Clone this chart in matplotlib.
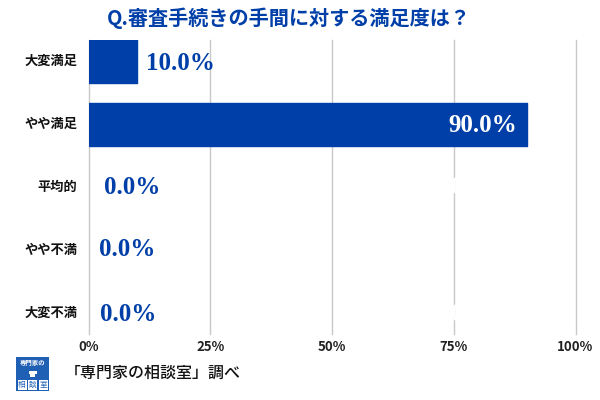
import matplotlib
matplotlib.use('Agg')
import matplotlib.pyplot as plt
from matplotlib.patches import Rectangle
from matplotlib.transforms import ScaledTranslation

plt.rcParams['font.family'] = ['Noto Sans CJK JP', 'DejaVu Sans']

categories = ['大変満足', 'やや満足', '平均的', 'やや不満', '大変不満']
values = [10.0, 90.0, 0.0, 0.0, 0.0]
value_labels = ['10.0%', '90.0%', '0.0%', '0.0%', '0.0%']
ticks = [0, 25, 50, 75, 100]
tick_labels = ['0%', '25%', '50%', '75%', '100%']
title = 'Q.審査手続きの手間に対する満足度は？'
source = '「専門家の相談室」調べ'

BLUE = '#003fa8'
W, H = 600, 400

fig = plt.figure(figsize=(6, 4), dpi=100)
ax = fig.add_axes([88.5 / W, 1 - 334 / H, 487 / W, 294 / H])

# bars, rounded a little by the edge join; empty bars get no edge
edges = [BLUE if v > 0 else 'none' for v in values]
ax.barh(range(5), values, height=0.67, color=BLUE, edgecolor=edges, linewidth=1, joinstyle='round', zorder=3)

ax.set_xlim(0, 100)
ax.set_ylim(4.325, -0.341)
ax.set_xticks(ticks)
ax.set_xticklabels(tick_labels, fontsize=9.5, fontweight='bold', color='#222222')
ax.set_yticks(range(5))
ax.set_yticklabels(categories, fontsize=9.5, fontweight='bold', color='#111111')
ax.tick_params(length=0)
ax.tick_params(axis='x', pad=4.5)
ax.tick_params(axis='y', pad=8)
# category labels sit 2px higher than the tick position
shift = ScaledTranslation(0, 2 / 100, fig.dpi_scale_trans)
for t in ax.get_yticklabels():
    t.set_transform(t.get_transform() + shift)
ax.grid(axis='x', color='#c8c8c8', linewidth=1, zorder=0)
for g in ax.get_xgridlines():
    g.set_clip_on(False)
for s in ax.spines.values():
    s.set_visible(False)

# value labels, each sits in its own spot
label_x = [146, 517, 104, 99, 100]
label_y = [63, 125.5, 187, 250, 314.5]
for i in range(5):
    fig.text(label_x[i] / W, 1 - label_y[i] / H, value_labels[i],
             family='Liberation Serif', fontweight='bold', fontsize=18,
             color='white' if values[i] > 50 else BLUE,
             ha='right' if values[i] > 50 else 'left', va='center')

# the original also has white copies of the labels that only nick the gridline
for i in [2, 4]:
    fig.text(451 / W, 1 - label_y[i] / H, value_labels[i],
             family='Liberation Serif', fontweight='bold', fontsize=18,
             color='white', ha='left', va='center')

fig.text(288.5 / W, 1 - 18 / H, title, fontsize=14.5, fontweight='bold', color=BLUE, ha='center', va='center')

# logo
logo = fig.add_axes([16 / W, 1 - 391 / H, 33 / W, 34 / H])
logo.set_xlim(0, 33)
logo.set_ylim(34, 0)
logo.axis('off')
logo.add_patch(Rectangle((0, 0), 33, 34, color='#1f5fb4', linewidth=0))
logo.text(16.5, 6, '専門家の', fontsize=4.6, fontweight='bold', color='white', ha='center', va='center')
logo.add_patch(Rectangle((12.5, 14), 8, 3, color='white', linewidth=0))
logo.add_patch(Rectangle((14, 17), 5, 2.5, color='white', linewidth=0))
for x, ch in zip([6, 16.5, 27], '相談室'):
    logo.add_patch(Rectangle((x - 4.5, 23), 9, 9.5, color='white', linewidth=0))
    logo.text(x, 27.5, ch, fontsize=5.5, color='#1f5fb4', ha='center', va='center')

fig.text(65 / W, 1 - 373 / H, source, fontsize=11.5, fontweight='medium', color='#111111', ha='left', va='center')

fig.savefig('out.png', dpi=100)
